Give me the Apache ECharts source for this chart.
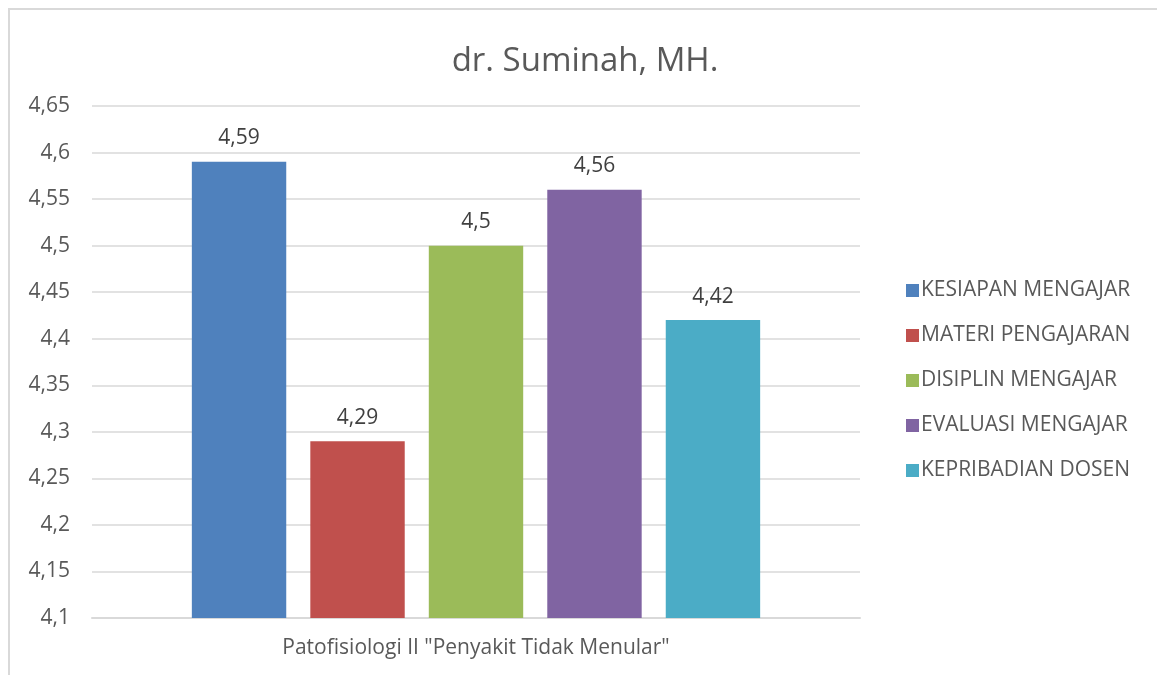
<!DOCTYPE html>
<html>
<head>
<meta charset="utf-8">
<script src="https://cdn.jsdelivr.net/npm/echarts@6/dist/echarts.min.js"></script>
<style>
html,body{margin:0;padding:0;background:#fff;overflow:hidden;}
#frame{position:absolute;left:8px;top:8px;width:1200px;height:700px;border-left:2px solid #d9d9d9;border-top:2px solid #d9d9d9;}
#chart{position:absolute;left:0;top:0;width:1157px;height:675px;}
</style>
</head>
<body>
<div id="frame"></div>
<div id="chart"></div>
<script>
const titleText = 'dr. Suminah, MH.';
const categories = ['Patofisiologi II "Penyakit Tidak Menular"'];
const seriesNames = ['KESIAPAN MENGAJAR','MATERI PENGAJARAN','DISIPLIN MENGAJAR','EVALUASI MENGAJAR','KEPRIBADIAN DOSEN'];
const seriesValues = [[4.59],[4.29],[4.5],[4.56],[4.42]];
const colors = ['#4F81BD','#C0504D','#9BBB59','#8064A2','#4BACC6'];
const yMin = 4.1, yMax = 4.65, yStep = 0.05;

const fmt = v => String(Math.round(v*100)/100).replace('.', ',');
const FONT = '"Open Sans", sans-serif';

const chart = echarts.init(document.getElementById('chart'), null, {renderer:'canvas'});
chart.setOption({
  animation:false,
  color: colors,
  textStyle:{fontFamily:FONT},
  title:{text:titleText,left:580,textAlign:'center',top:40,
    textStyle:{fontSize:33,fontWeight:'normal',color:'#595959',fontFamily:FONT}},
  legend:{orient:'vertical',left:901,top:275,itemWidth:13,itemHeight:13,itemGap:24,
    icon:'rect',textStyle:{fontSize:21,color:'#595959',fontFamily:FONT,padding:[0,0,0,-3]},
    data:seriesNames},
  grid:{left:92,right:297,top:106,bottom:57,containLabel:false},
  xAxis:{type:'category',data:categories,
    axisLine:{lineStyle:{color:'#d9d9d9',width:2}},axisTick:{show:false},
    axisLabel:{fontSize:21,color:'#595959',margin:20,fontFamily:FONT}},
  yAxis:{type:'value',min:yMin,max:yMax,interval:yStep,
    axisLine:{show:false},axisTick:{show:false},
    splitLine:{lineStyle:{color:'#d9d9d9',width:1.5}},
    axisLabel:{fontSize:21,color:'#595959',margin:22,fontFamily:FONT,formatter:fmt}},
  series: seriesNames.map((n,i)=>({
    name:n,type:'bar',data:seriesValues[i],barGap:'25.5%',barCategoryGap:'26%',
    label:{show:true,position:'top',distance:13,fontSize:21,color:'#404040',fontFamily:FONT,
      formatter:p=>fmt(p.value)}
  }))
});
</script>
</body>
</html>
